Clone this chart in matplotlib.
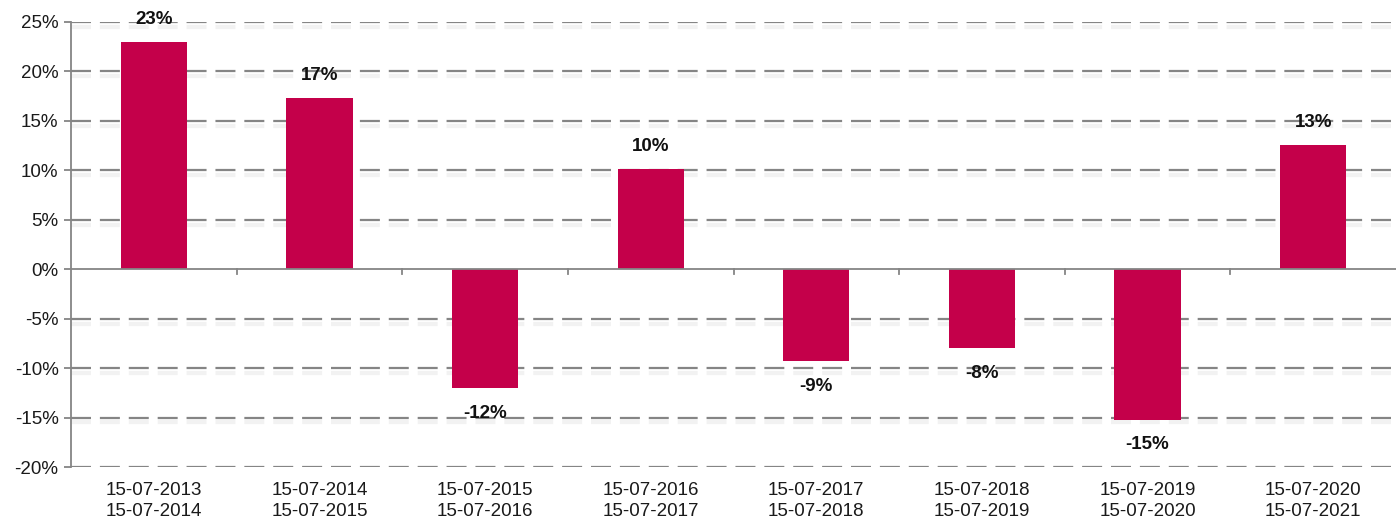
import matplotlib
matplotlib.use("Agg")
import matplotlib.pyplot as plt
import matplotlib.patheffects as pe
import numpy as np

periods = ["15-07-2013\n15-07-2014", "15-07-2014\n15-07-2015", "15-07-2015\n15-07-2016",
           "15-07-2016\n15-07-2017", "15-07-2017\n15-07-2018", "15-07-2018\n15-07-2019",
           "15-07-2019\n15-07-2020", "15-07-2020\n15-07-2021"]
returns = [23.0, 17.3, -12.0, 10.1, -9.3, -8.0, -15.2, 12.6]
labels = ["23%", "17%", "-12%", "10%", "-9%", "-8%", "-15%", "13%"]
yticks = [-20, -15, -10, -5, 0, 5, 10, 15, 20, 25]

plt.rcParams['font.family'] = ['Liberation Sans', 'DejaVu Sans']

fig = plt.figure(figsize=(13.96, 5.19), dpi=100)
ax = fig.add_axes([71/1396, 52/519, 1 - 71/1396, 445/519])

x = np.arange(len(periods))
ax.bar(x, returns, width=0.4, color='#C4004A', zorder=3)

ax.set_xlim(-0.5, len(periods) - 0.5)
ax.set_ylim(-20, 25)
ax.set_yticks(yticks)
ax.set_yticklabels([f"{v}%" for v in yticks], fontsize=13.5, color='#1a1a1a')

shadow = [pe.SimpleLineShadow(offset=(0, -3.5), shadow_color='#bbbbbb', alpha=0.18, linewidth=3), pe.Normal()]
for v in yticks:
    if v == 0:
        continue
    ax.axhline(v, color='#858585', lw=1.6, linestyle=(0, (9, 4)), zorder=1, path_effects=shadow)
ax.axhline(0, color='#858585', lw=1.3, zorder=4)

for s in ['top', 'right', 'bottom']:
    ax.spines[s].set_visible(False)
ax.spines['left'].set_color('#858585')
ax.spines['left'].set_linewidth(1.3)
ax.tick_params(axis='y', length=5, color='#858585', width=1.3, pad=4)

ax.set_xticks(x)
ax.set_xticklabels(periods, fontsize=13.5, color='#1a1a1a', linespacing=1.3)
ax.tick_params(axis='x', length=0, pad=11)
# boundary ticks on zero line
for b in np.arange(0.5, len(periods) - 0.5, 1.0):
    ax.plot([b, b], [0, -0.5], color='#858585', lw=1.3, zorder=4)

for xi, v, lab in zip(x, returns, labels):
    if v >= 0:
        ax.annotate(lab, (xi, v), xytext=(0, 10), textcoords='offset points',
                    ha='center', va='bottom', fontsize=13.5, fontweight='bold', color='#111111', zorder=5)
    else:
        ax.annotate(lab, (xi, v), xytext=(0, -12), textcoords='offset points',
                    ha='center', va='top', fontsize=13.5, fontweight='bold', color='#111111', zorder=5)

fig.savefig("out.png", dpi=100)
